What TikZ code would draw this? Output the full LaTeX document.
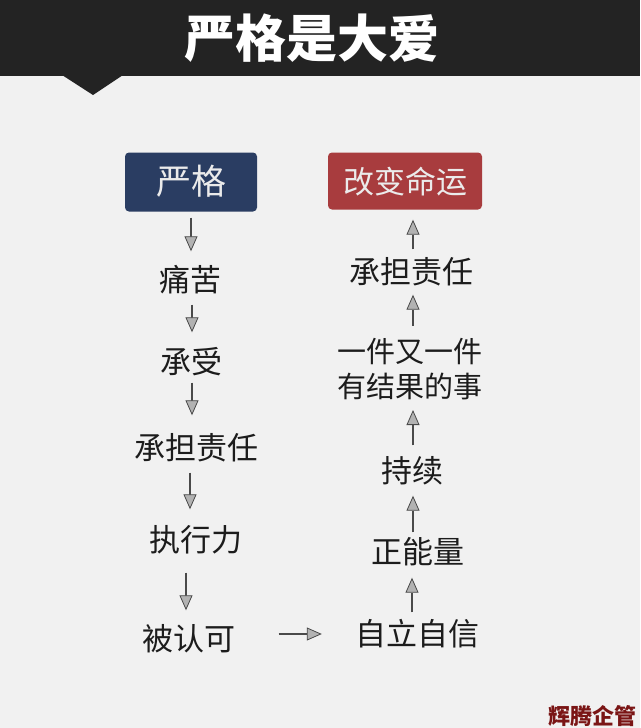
\documentclass[tikz,border=0pt]{standalone}
\usepackage{fontspec}
\newfontfamily\cjk{Noto Sans CJK SC}
\usetikzlibrary{arrows.meta}
\definecolor{bgc}{HTML}{F1F1F1}
\definecolor{headc}{HTML}{232323}
\definecolor{navyc}{HTML}{2A3D62}
\definecolor{redc}{HTML}{A83C3E}
\definecolor{txtc}{HTML}{1C1C1C}
\definecolor{arrc}{HTML}{4A4A4A}
\definecolor{markc}{HTML}{7A1515}
\tikzset{
  lbl/.style={font=\cjk\fontsize{31}{36}\selectfont, text=txtc, inner sep=0pt,
    text height=26pt, text depth=3pt},
  boxnode/.style={font=\cjk\fontsize{35}{38}\selectfont, text=white!92!black,
    rounded corners=4pt, inner sep=0pt, text height=28pt, text depth=3pt},
  flow/.style={draw=arrc, line width=1.1pt,
    -{Triangle[width=13pt,length=15pt,fill=gray!60,line width=0.8pt]}},
}
\begin{document}
\begin{tikzpicture}[x=1pt,y=-1pt]
\useasboundingbox (0,0) rectangle (640,728);
\fill[bgc] (0,0) rectangle (640,728);
% header
\fill[headc] (0,0) rectangle (640,76);
\fill[headc] (62,75) -- (93,95) -- (123,75) -- cycle;
\node[font=\cjk\bfseries\fontsize{51}{56}\selectfont, text=white, inner sep=0pt] (title) at (312,38) {严格是大爱};

% boxes
\node[boxnode, fill=navyc, minimum width=132pt, minimum height=59pt] (L0) at (191,182) {严格};
\node[boxnode, fill=redc, minimum width=154pt, minimum height=57pt, font=\cjk\fontsize{31}{36}\selectfont] (R0) at (405,181) {改变命运};

% left column
\node[lbl] (L1) at (190,280) {痛苦};
\node[lbl] (L2) at (191,362) {承受};
\node[lbl] (L3) at (196,448) {承担责任};
\node[lbl] (L4) at (196,540) {执行力};
\node[lbl] (L5) at (189,639) {被认可};

% right column
\node[lbl] (R1) at (411,272) {承担责任};
\node[font=\cjk\fontsize{29}{35}\selectfont, text=txtc, inner sep=0pt, align=center] (R2) at (410,369) {一件又一件\\有结果的事};
\node[lbl] (R3) at (412,471) {持续};
\node[lbl] (R4) at (418,552) {正能量};
\node[lbl] (R5) at (417,634) {自立自信};

% watermark
\node[font=\cjk\bfseries\fontsize{22}{24}\selectfont, text=markc, inner sep=0pt] (mark) at (592,716) {辉腾企管};

% left arrows (down)
\draw[flow, shorten <=5pt, shorten >=14pt] ([yshift=-1pt]L0.south) -- (L0.south |- L1.north);
\draw[flow, shorten <=10pt, shorten >=15pt] ([xshift=2pt]L1.south) -- ([xshift=2pt]L1.south |- L2.north);
\draw[flow, shorten <=6pt, shorten >=18pt] ([xshift=1pt]L2.south) -- ([xshift=1pt]L2.south |- L3.north);
\draw[flow, shorten <=10pt, shorten >=16pt] ([xshift=-6pt]L3.south) -- ([xshift=-6pt]L3.south |- L4.north);
\draw[flow, shorten <=18pt, shorten >=14pt] ([xshift=-10pt]L4.south) -- ([xshift=-10pt]L4.south |- L5.north);

% right arrows (up)
\draw[flow, shorten <=8pt, shorten >=10pt] ([xshift=2pt]R1.north) -- ([xshift=2pt]R1.north |- R0.south);
\draw[flow, shorten <=12pt, shorten >=8pt] ([xshift=3pt]R2.north) -- ([xshift=3pt]R2.north |- R1.south);
\draw[flow, shorten <=11pt, shorten >=10pt] ([xshift=1pt]R3.north) -- ([xshift=1pt]R3.north |- R2.south);
\draw[flow, shorten <=5pt, shorten >=10pt] ([xshift=-5pt]R4.north) -- ([xshift=-5pt]R4.north |- R3.south);
\draw[flow, shorten <=7pt, shorten >=11pt] ([xshift=-5pt]R5.north) -- ([xshift=-5pt]R5.north |- R4.south);

% horizontal
\draw[flow, shorten <=43pt, shorten >=33pt] (L5.east |- R5) -- (R5.west);
\end{tikzpicture}
\end{document}
